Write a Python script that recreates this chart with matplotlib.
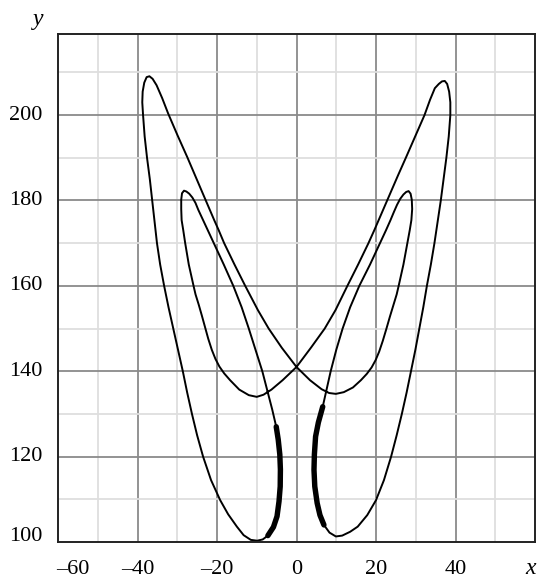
import matplotlib.pyplot as plt
import numpy as np

# orbit traced in four pieces, in order of travel, as (x, y) pairs
left_thick = [(-5.1, 127.0), (-4.6, 124.0), (-4.2, 120.5), (-4.05, 117.0), (-4.1, 113.0),
              (-4.4, 109.5), (-4.9, 106.0), (-5.8, 103.5), (-7.2, 101.5)]

left_to_right = [(-8.5, 100.6), (-9.9, 100.3), (-11.5, 100.5), (-13.3, 101.6), (-15.0, 103.6),
                 (-17.2, 106.5), (-19.2, 109.8), (-21.5, 114.5), (-23.5, 120.0), (-25.0, 125.0),
                 (-26.3, 130.0), (-27.5, 135.0), (-28.6, 140.0), (-29.8, 145.0), (-31.0, 150.0),
                 (-32.2, 155.0), (-33.3, 160.0), (-34.3, 165.0), (-35.1, 170.0), (-35.7, 175.0),
                 (-36.3, 180.0), (-36.9, 185.0), (-37.6, 190.0), (-38.2, 195.0), (-38.6, 200.0),
                 (-38.8, 203.0), (-38.7, 205.5), (-38.3, 207.6), (-37.7, 208.9), (-37.0, 209.1),
                 (-36.2, 208.5), (-35.2, 207.0), (-33.8, 204.0), (-32.3, 200.4), (-29.9, 195.2),
                 (-27.5, 190.2), (-25.4, 185.6), (-23.6, 181.7), (-21.9, 178.0), (-20.7, 175.4),
                 (-19.6, 173.1), (-18.2, 170.0), (-15.6, 165.0), (-12.9, 160.0), (-9.7, 154.3),
                 (-7.0, 150.0), (-3.7, 145.5), (0.0, 141.0), (3.4, 137.9), (6.3, 135.8),
                 (8.2, 134.9), (9.9, 134.7), (11.9, 135.1), (14.2, 136.2), (16.2, 137.9),
                 (17.7, 139.4), (18.9, 140.9), (19.9, 142.6), (20.8, 144.6), (21.7, 147.1),
                 (22.6, 149.9), (23.5, 152.8), (24.4, 155.6), (25.2, 158.0), (25.7, 160.0),
                 (26.9, 165.0), (27.9, 170.0), (28.5, 173.1), (28.9, 175.4), (29.1, 178.0),
                 (29.0, 180.2), (28.7, 181.6), (28.2, 182.2), (27.6, 182.0), (26.9, 181.4),
                 (26.1, 180.4), (25.3, 179.0), (24.5, 177.3), (23.6, 175.3), (22.5, 173.0),
                 (21.0, 170.0), (18.5, 165.0), (15.8, 160.0), (13.5, 155.0), (11.6, 150.0),
                 (10.0, 145.0), (8.6, 140.0), (7.4, 135.0)]

right_thick = [(6.6, 131.7), (5.5, 128.0), (4.8, 124.7), (4.5, 120.5), (4.4, 116.9),
               (4.6, 113.0), (5.2, 109.1), (5.9, 106.3), (6.9, 104.0)]

right_to_left = [(8.3, 102.2), (9.9, 101.3), (11.5, 101.5), (13.5, 102.4), (15.4, 103.6),
                 (17.8, 106.3), (20.0, 109.8), (22.0, 114.5), (23.8, 120.0), (25.2, 125.0),
                 (26.5, 130.0), (27.7, 135.0), (28.8, 140.0), (29.9, 145.0), (30.9, 150.0),
                 (31.9, 155.0), (32.8, 160.0), (33.8, 165.0), (34.7, 170.0), (35.5, 175.0),
                 (36.3, 180.0), (37.0, 185.0), (37.7, 190.0), (38.3, 195.0), (38.7, 200.0),
                 (38.7, 203.0), (38.4, 205.5), (37.9, 207.3), (37.3, 208.0), (36.6, 207.9),
                 (35.8, 207.3), (34.8, 206.3), (33.6, 203.6), (32.2, 200.0), (29.9, 195.1),
                 (27.6, 190.2), (25.5, 185.8), (23.6, 181.7), (21.8, 177.8), (20.7, 175.4),
                 (19.6, 173.1), (18.1, 170.0), (15.5, 165.0), (12.8, 160.0), (9.8, 154.3),
                 (7.1, 150.0), (3.7, 145.6), (0.0, 141.0), (-3.5, 137.9), (-6.3, 135.7),
                 (-8.3, 134.5), (-10.0, 134.0), (-12.0, 134.4), (-14.4, 135.7), (-16.7, 137.9),
                 (-18.2, 139.5), (-19.4, 141.1), (-20.4, 142.9), (-21.3, 145.0), (-22.2, 147.6),
                 (-23.0, 150.3), (-23.8, 153.0), (-24.6, 155.6), (-25.4, 158.0), (-25.9, 160.0),
                 (-27.1, 165.0), (-28.0, 170.0), (-28.5, 173.1), (-28.9, 175.4), (-29.0, 178.0),
                 (-29.0, 180.2), (-28.8, 181.7), (-28.3, 182.3), (-27.7, 182.1), (-27.0, 181.6),
                 (-26.2, 180.7), (-25.4, 179.4), (-24.7, 177.8), (-23.5, 175.4), (-22.35, 173.1),
                 (-20.8, 170.0), (-18.3, 165.0), (-15.9, 160.0), (-13.8, 155.0), (-12.0, 150.0),
                 (-10.3, 145.0), (-8.6, 140.0), (-7.2, 135.0), (-6.1, 131.0)]

x_ticks = [-60, -40, -20, 0, 20, 40]
y_ticks = [100, 120, 140, 160, 180, 200]

plt.rcParams['font.family'] = ['Liberation Serif', 'DejaVu Serif']

fig = plt.figure(figsize=(5.38, 5.84), dpi=100)
ax = fig.add_axes([58 / 538, 42 / 584, 477 / 538, 508 / 584])

ax.set_xlim(-60, 60)
ax.set_ylim(100, 219)

# grid: light every 10, darker every 20
for v in range(-50, 60, 10):
    major = v % 20 == 0
    ax.axvline(v, color='#8a8a8a' if major else '#dedede', lw=1.3, zorder=1)
for v in range(110, 219, 10):
    major = v % 20 == 0
    ax.axhline(v, color='#8a8a8a' if major else '#dedede', lw=1.3, zorder=1)

# closed orbit, then the two heavy arcs on top
orbit = np.array(left_thick + left_to_right + right_thick + right_to_left + left_thick[:1])
ax.plot(orbit[:, 0], orbit[:, 1], color='black', lw=1.4, zorder=3, solid_joinstyle='round')
for arc in (left_thick, right_thick):
    a = np.array(arc)
    ax.plot(a[:, 0], a[:, 1], color='black', lw=3.9, zorder=4,
            solid_capstyle='round', solid_joinstyle='round')

ax.set_xticks([])
ax.set_yticks([])
for s in ax.spines.values():
    s.set_color('#222222')
    s.set_linewidth(1.4)
    s.set_zorder(5)

for v in x_ticks:
    dx = 11 if v == -60 else 0
    ax.annotate(str(v).replace('-', '\u2013'), xy=(v, 0), xycoords=('data', 'axes fraction'),
                xytext=(dx, -13), textcoords='offset points', ha='center', va='top', fontsize=16)
for v in y_ticks:
    dy = 4 if v == 100 else 0
    ax.annotate(str(v), xy=(0, v), xycoords=('axes fraction', 'data'),
                xytext=(-11, dy), textcoords='offset points', ha='right', va='center', fontsize=16)

fig.text(531 / 538, 1 - 568 / 584, 'x', style='italic', fontsize=17, ha='center', va='center')
fig.text(38 / 538, 1 - 19 / 584, 'y', style='italic', fontsize=17, ha='center', va='center')

fig.savefig('out.png', dpi=100)
